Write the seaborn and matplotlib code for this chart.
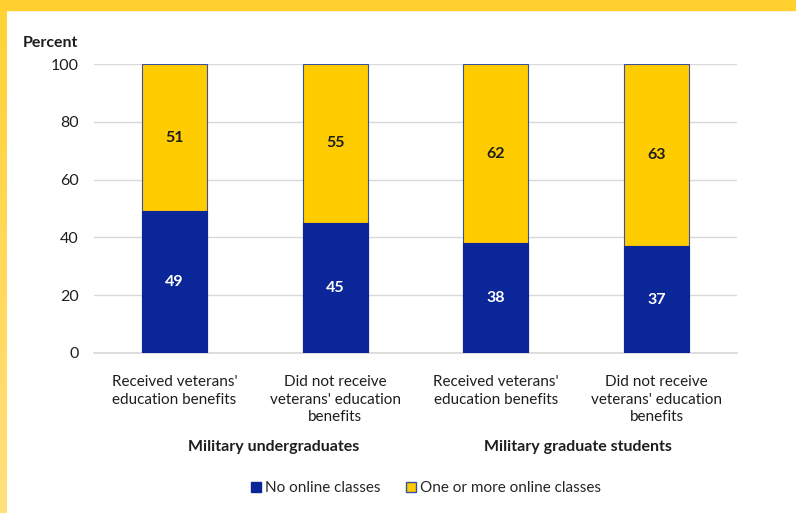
import matplotlib
matplotlib.use("Agg")
import matplotlib.pyplot as plt
import matplotlib.patches as mpatches
import numpy as np
import seaborn as sns
import pandas as pd

categories = [
    "Received veterans'\neducation benefits",
    "Did not receive\nveterans' education\nbenefits",
    "Received veterans'\neducation benefits",
    "Did not receive\nveterans' education\nbenefits",
]
no_online = [49, 45, 38, 37]
one_or_more = [51, 55, 62, 63]
groups = ["Military undergraduates", "Military graduate students"]
series_names = ["No online classes", "One or more online classes"]
yticks = [0, 20, 40, 60, 80, 100]

BLUE = "#0A2698"
YELLOW = "#FFCC00"
EDGE = "#3A4FA0"
TEXT = "#1E1E1E"
FS = 11.5

sns.set_theme(style="white")
plt.rcParams["font.family"] = ["Lato", "DejaVu Sans"]

fig = plt.figure(figsize=(7.96, 5.13), dpi=100)
fig.patch.set_facecolor("white")

# yellow frame along the top and left edges (left edge fades lighter downward)
fig.patches.append(mpatches.Rectangle((0, 1 - 10 / 513), 1, 10 / 513,
                                      transform=fig.transFigure, color="#FFD02E", zorder=0))
frame = fig.add_axes([0, 0, 7 / 796, 1 - 10 / 513])
grad = np.linspace(0, 1, 256).reshape(-1, 1)
frame.imshow(grad, aspect="auto", cmap=matplotlib.colors.LinearSegmentedColormap.from_list(
    "edge", ["#FFE07E", "#FFD235"]), origin="lower", extent=(0, 1, 0, 1))
frame.set_axis_off()

ax = fig.add_axes([94 / 796, 1 - 353 / 513, 643 / 796, 289 / 513])

df = pd.DataFrame({"cat": list(range(len(categories))),
                   "total": [a + b for a, b in zip(no_online, one_or_more)],
                   "base": no_online})

sns.barplot(data=df, x="cat", y="total", color=YELLOW, width=0.405,
            edgecolor=EDGE, linewidth=0.8, saturation=1, ax=ax, zorder=3)
sns.barplot(data=df, x="cat", y="base", color=BLUE, width=0.405,
            edgecolor=BLUE, linewidth=0.8, saturation=1, ax=ax, zorder=4)

for i, (a, b) in enumerate(zip(no_online, one_or_more)):
    ax.text(i, a / 2, str(a), ha="center", va="center", color="white",
            fontsize=FS, fontweight="bold", zorder=5)
    ax.text(i, a + b / 2, str(b), ha="center", va="center", color=TEXT,
            fontsize=FS, fontweight="bold", zorder=5)

ax.set_xlim(-0.5, 3.5)
ax.set_ylim(0, 100)
ax.set_yticks(yticks)
ax.set_yticklabels([str(t) for t in yticks], fontsize=FS, color=TEXT)
ax.yaxis.grid(True, color="#D9D9D9", linewidth=1)
ax.set_axisbelow(True)
ax.set_xticks(range(len(categories)))
ax.set_xticklabels(categories, fontsize=11, color=TEXT, linespacing=1.3)
ax.tick_params(axis="y", length=0, pad=11)
ax.tick_params(axis="x", length=0, pad=16)
ax.set_xlabel("")
ax.set_ylabel("")
for s in ["top", "right", "left"]:
    ax.spines[s].set_visible(False)
ax.spines["bottom"].set_color("#D9D9D9")

fig.text(78 / 796, 1 - 43 / 513, "Percent", fontsize=FS, fontweight="bold",
         ha="right", va="center", color=TEXT)

# group captions beneath each pair of bars
group_x = [274 / 796, 578 / 796]
for gx, g in zip(group_x, groups):
    fig.text(gx, 1 - 447 / 513, g, fontsize=FS, fontweight="bold",
             ha="center", va="center", color=TEXT)

handles = [mpatches.Patch(facecolor=BLUE, edgecolor=BLUE, label=series_names[0]),
           mpatches.Patch(facecolor=YELLOW, edgecolor=EDGE, label=series_names[1])]
fig.legend(handles=handles, loc="center", bbox_to_anchor=(426 / 796, 1 - 488 / 513),
           ncol=2, frameon=False, fontsize=11, handlelength=0.65, handleheight=0.65,
           handletextpad=0.25, columnspacing=1.7)

fig.savefig("out.png", dpi=100)
